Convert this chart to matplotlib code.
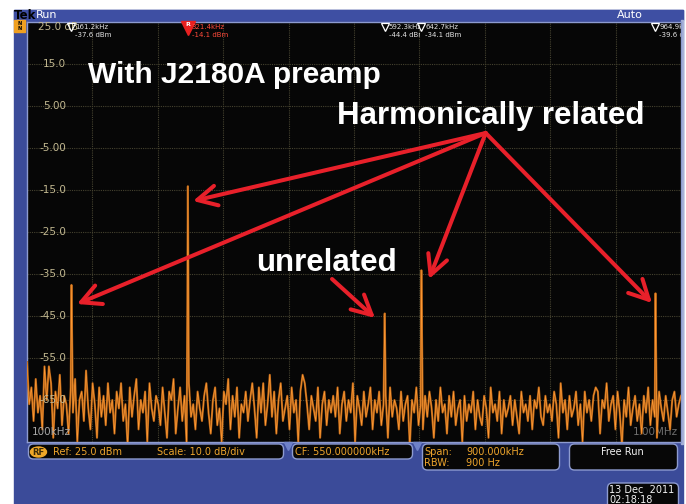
"""Spectrum analyzer screenshot: J2180A preamp, harmonically related peaks."""
import matplotlib
matplotlib.use('Agg')
import matplotlib.pyplot as plt
import matplotlib.patches as mpatches
from matplotlib.transforms import Bbox, TransformedBbox
import numpy as np

W, H = 686, 504

# ---- data -------------------------------------------------------------
f_start, f_stop = 100.0, 1000.0          # kHz
ref_level, bottom_level = 25.0, -75.0    # dBm

# noise floor samples (dBm), evenly spread over the span
noise_db = [
    -56, -66, -62, -70, -60, -68, -64, -72, -57, -65, -57, -61, -74, -63, -67, -59, -71, -64, -66, -73,
    -62, -68, -60, -75, -65, -63, -70, -58, -67, -72, -61, -66, -74, -62, -69, -64, -71, -61, -68, -65,
    -73, -63, -67, -61, -70, -66, -76, -62, -69, -64, -60, -72, -65, -68, -63, -75, -61, -67, -70, -64,
    -66, -71, -62, -68, -74, -63, -65, -60, -73, -67, -62, -70, -64, -76, -61, -69, -66, -72, -63, -67,
    -70, -64, -61, -68, -73, -65, -62, -71, -67, -75, -63, -66, -60, -72, -64, -69, -62, -74, -66, -68,
    -63, -70, -65, -61, -67, -74, -62, -68, -61, -71, -66, -59, -69, -63, -73, -65, -61, -70, -67, -64,
    -72, -62, -68, -65, -75, -63, -59, -61, -66, -72, -64, -67, -70, -62, -74, -66, -63, -71, -65, -68,
    -64, -69, -62, -73, -66, -63, -70, -65, -68, -61, -75, -64, -67, -71, -63, -69, -66, -62, -72, -65,
    -68, -63, -71, -66, -64, -74, -62, -69, -65, -67, -72, -63, -70, -66, -64, -76, -65, -68, -62, -71,
    -66, -72, -64, -69, -63, -67, -74, -65, -70, -62, -68, -66, -73, -64, -69, -63, -71, -67, -65, -75,
    -64, -70, -66, -68, -63, -72, -65, -69, -71, -64, -67, -74, -62, -68, -66, -70, -63, -73, -65, -69,
    -67, -64, -71, -65, -69, -73, -63, -68, -66, -70, -64, -72, -65, -67, -62, -69, -71, -64, -68, -66,
    -70, -63, -66, -74, -61, -68, -65, -72, -64, -69, -67, -63, -71, -66, -75, -63, -68, -65, -70, -64,
    -62, -63, -73, -65, -67, -61, -70, -66, -64, -72, -63, -68, -76, -65, -69, -62, -71, -67, -64, -70,
    -66, -73, -64, -68, -62, -71, -65, -69, -74, -63, -67, -70, -64, -68, -72, -65, -63, -69, -66, -64,
]

# marker readouts
peak_khz = [161.2, 321.4, 592.3, 642.7, 964.9]
peak_dbm = [-37.6, -14.1, -44.4, -34.1, -39.6]
ref_marker = 1   # the "R" marker

y_ticks = [15, 5, -5, -15, -25, -35, -45, -55, -65]
y_tick_labels = ["15.0", "5.00", "-5.00", "-15.0", "-25.0", "-35.0", "-45.0", "-55.0", "-65.0"]

COLORS = {
    "frame": "#3b4b99", "header": "#3e4fa3", "border": "#8d9bd0",
    "screen": "#060606", "grid": "#45422f", "tick": "#c2b890",
    "trace_dark": "#b06016", "trace": "#ff9a34", "arrow": "#e8202a",
    "amber": "#eea52c", "white": "#f2f2f2",
}


def rect(x0, y0, x1, y1):
    return [x0 / W, 1 - y1 / H, (x1 - x0) / W, (y1 - y0) / H]


fig = plt.figure(figsize=(W / 100, H / 100), dpi=100, facecolor='white')

# ---- instrument chrome ------------------------------------------------
bg = fig.add_axes([0, 0, 1, 1], zorder=0)
bg.set_xlim(0, W)
bg.set_ylim(H, 0)
bg.axis('off')
bg.add_patch(mpatches.Rectangle((14, 10), 669, 500, color=COLORS["frame"]))
bg.add_patch(mpatches.Rectangle((14, 10), 669, 10, color=COLORS["header"]))
bg.add_patch(mpatches.Rectangle((681, 20), 2, 424, color="#a8b2d8"))
bg.text(14, 15.5, "Tek", fontsize=8.5, fontweight='bold', color='black', va='center', ha='left')
bg.text(36, 15.5, "Run", fontsize=8, color='white', va='center', ha='left')
bg.text(617, 15.5, "Auto", fontsize=8, color='white', va='center', ha='left')
bg.add_patch(mpatches.Rectangle((14, 20), 11, 12, color="#f0a020"))
bg.text(19.5, 26, "N\nN", fontsize=3.5, color='black', va='center', ha='center',
        fontweight='bold', linespacing=0.9)


def status_box(x0, y0, x1, y1):
    bg.add_patch(mpatches.FancyBboxPatch(
        (x0 + 3, y0 + 1.5), x1 - x0 - 6, y1 - y0 - 3,
        boxstyle="round,pad=1.5,rounding_size=5",
        facecolor="#070707", edgecolor=COLORS["border"], linewidth=1))


status_box(27, 444, 285, 459)
status_box(291, 444, 414, 459)
status_box(421, 444, 561, 470)
status_box(568, 444, 679, 470)
status_box(606, 483, 680, 510)

bg.add_patch(mpatches.Ellipse((38.5, 452), 16, 10, color="#f0a828"))
bg.text(38.5, 452.5, "RF", fontsize=6, color="#3a2a08", ha='center', va='center', fontweight='bold')
sfont = dict(fontsize=7, color=COLORS["amber"], va='center', ha='left')
bg.text(53, 452, "Ref: 25.0 dBm", **sfont)
bg.text(157, 452, "Scale: 10.0 dB/div", **sfont)
bg.text(295, 452, "CF: 550.000000kHz", **sfont)
bg.text(424, 452, "Span:", **sfont)
bg.text(466, 452, "900.000kHz", **sfont)
bg.text(424, 463, "RBW:", **sfont)
bg.text(466, 463, "900 Hz", **sfont)
bg.text(622, 452, "Free Run", fontsize=7, color=COLORS["white"], va='center', ha='center')
bg.text(609, 490, "13 Dec  2011", fontsize=7, color=COLORS["white"], va='center', ha='left')
bg.text(609, 500, "02:18:18", fontsize=7, color=COLORS["white"], va='center', ha='left')

# ---- spectrum screen --------------------------------------------------
ax = fig.add_axes(rect(27, 22, 681, 442), zorder=5)
ax.set_facecolor(COLORS["screen"])
ax.set_xlim(f_start, f_stop)
ax.set_ylim(bottom_level, ref_level)
ax.set_xticks(np.linspace(f_start, f_stop, 11))
ax.set_yticks(np.arange(bottom_level, ref_level + 1, 10))
ax.tick_params(length=0, labelbottom=False, labelleft=False)
ax.grid(True, color=COLORS["grid"], linestyle=(0, (1, 1)), linewidth=0.8)
for s in ax.spines.values():
    s.set_color(COLORS["border"])
    s.set_linewidth(1)

noise_f = np.linspace(f_start, f_stop, len(noise_db))
trace_f = np.concatenate([noise_f, peak_khz])
trace_db = np.concatenate([noise_db, peak_dbm])
order = np.argsort(trace_f)
ax.plot(trace_f[order], trace_db[order], color=COLORS["trace_dark"], lw=1.5, zorder=3)
ax.plot(trace_f[order], trace_db[order], color=COLORS["trace"], lw=0.5, zorder=4)

# amplitude labels drawn on screen
lab_tr = ax.get_yaxis_transform()
for v, lab in zip(y_ticks, y_tick_labels):
    ax.text(0.0596, v, lab, transform=lab_tr, fontsize=7.5, color=COLORS["tick"],
            ha='right', va='center', zorder=5)
ax.text(0.017, 23.9, "25.0 dB", transform=lab_tr, fontsize=7.5, color=COLORS["tick"],
        ha='left', va='center', zorder=5)
ax.text(0.008, 0.012, "100kHz", transform=ax.transAxes, fontsize=7.5, color="#a8a8a8",
        ha='left', va='bottom', zorder=5)
ax.text(0.995, 0.012, "1.00MHz", transform=ax.transAxes, fontsize=7.5, color="#6e6e6e",
        ha='right', va='bottom', zorder=2)

# marker readouts along the top
for i, (f, db) in enumerate(zip(peak_khz, peak_dbm)):
    is_ref = i == ref_marker
    if is_ref:
        ax.plot(f, 23.6, marker='v', ms=10, color="#e82020", clip_on=False, zorder=6)
        ax.text(f, 24.4, "R", fontsize=4.5, color='white', ha='center', va='center',
                fontweight='bold', zorder=7)
    else:
        ax.plot(f, 23.9, marker='v', ms=6, mfc='none', mec='white', mew=0.9,
                clip_on=False, zorder=6)
    col = "#ff4a3a" if is_ref else "#e4e4e4"
    f_end = peak_khz[i + 1] - 2 if i + 1 < len(peak_khz) else f_stop
    clip = TransformedBbox(Bbox([[f - 5, bottom_level], [f_end, ref_level + 5]]), ax.transData)
    for txt, yy in ((f"{f:.1f}kHz", 23.8), (f"{db:.1f} dBm", 21.9)):
        t = ax.text(f + 5.5, yy, txt, fontsize=5, color=col, ha='left', va='center', zorder=6)
        t.set_clip_box(clip)
        t.set_clip_on(True)

# ---- annotations ------------------------------------------------------
top = fig.add_axes([0, 0, 1, 1], zorder=10)
top.set_xlim(0, W)
top.set_ylim(H, 0)
top.axis('off')
top.patch.set_alpha(0)

afont = dict(family='Liberation Sans', fontweight='bold', color='white', va='baseline', ha='left')
top.text(88, 83, "With J2180A preamp", fontsize=21.5, **afont)
top.text(337, 124, "Harmonically related", fontsize=22.5, **afont)
top.text(256, 271, "unrelated", fontsize=22.5, **afont)

origin = (485.7, 133)
tips = [(193, 201), (77, 304), (429, 279), (652, 303)]
arrow_kw = dict(arrowstyle='->,head_length=0.7,head_width=0.36', color=COLORS["arrow"],
                lw=2.9, shrinkA=0, shrinkB=0, mutation_scale=20)
for tip in tips:
    top.annotate('', xy=tip, xytext=origin, arrowprops=arrow_kw)
top.annotate('', xy=(375, 318), xytext=(332, 279), arrowprops=arrow_kw)

# small span indicators on the screen edge
top.plot([288, 417], [446, 446], linestyle='none', marker='v', ms=6, color="#6f82c8")

fig.savefig("out.png", dpi=100, facecolor=fig.get_facecolor())
plt.close()
